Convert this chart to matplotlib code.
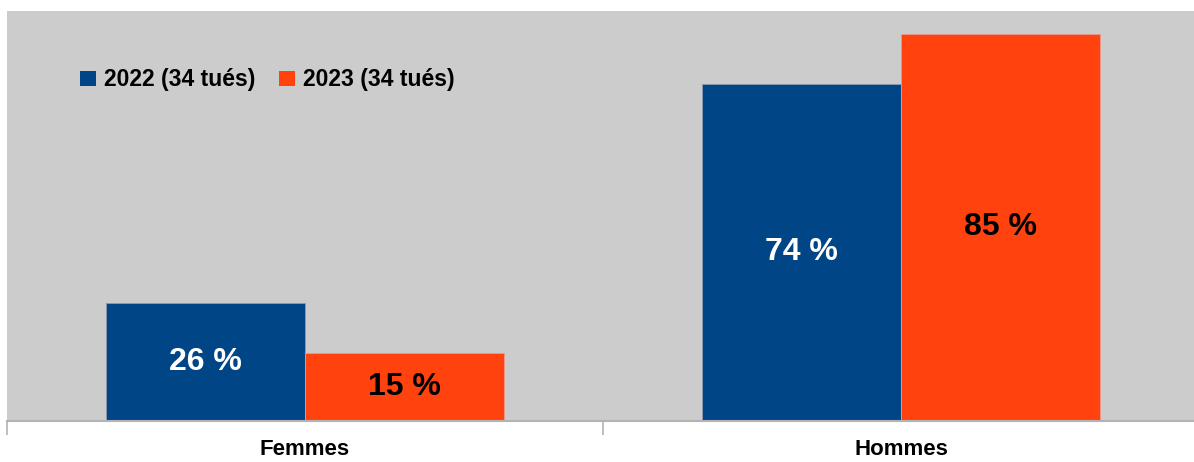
import matplotlib
matplotlib.use("Agg")
import matplotlib.pyplot as plt
from matplotlib.patches import Patch
import numpy as np

categories = ["Femmes", "Hommes"]
series_names = ["2022 (34 tués)", "2023 (34 tués)"]
values_2022 = [26, 74]
values_2023 = [15, 85]
labels_2022 = ["26 %", "74 %"]
labels_2023 = ["15 %", "85 %"]

plt.rcParams['font.family'] = ['Liberation Sans', 'DejaVu Sans']

blue = "#004586"
orange = "#FF420E"

fig = plt.figure(figsize=(11.94, 4.62), dpi=100)
ax = fig.add_axes([7/1194, (462-421)/462, 1192/1194, (421-11)/462])
ax.set_facecolor("#CCCCCC")

x = np.arange(len(categories))
w = 0.334
ax.bar(x - w/2, values_2022, w, color=blue, edgecolor="#8a9bb0", linewidth=0.6, zorder=2)
ax.bar(x + w/2, values_2023, w, color=orange, edgecolor="#e89a88", linewidth=0.6, zorder=2)

for xi, v, lab in zip(x - w/2, values_2022, labels_2022):
    ax.text(xi, v/2, lab, ha="center", va="center", color="white", fontsize=23, fontweight="bold", zorder=3)
for xi, v, lab in zip(x + w/2, values_2023, labels_2023):
    ax.text(xi, v/2, lab, ha="center", va="center", color="black", fontsize=23, fontweight="bold", zorder=3)

ax.set_xlim(-0.5, 1.5)
ax.set_ylim(0, 90)
ax.set_yticks([])
ax.set_xticks([-0.5, 0.5, 1.5])
ax.set_xticklabels([])
ax.set_xticks(x, minor=True)
ax.set_xticklabels(categories, minor=True, fontsize=16, fontweight="bold")
ax.tick_params(axis="x", which="major", length=10, color="#B3B3B3", width=1.2)
ax.tick_params(axis="x", which="minor", length=0, pad=13)
for s in ["top", "right", "left"]:
    ax.spines[s].set_visible(False)
ax.spines["bottom"].set_color("#B3B3B3")
ax.spines["bottom"].set_linewidth(1.5)

handles = [Patch(facecolor=blue), Patch(facecolor=orange)]
ax.legend(handles, series_names, loc="center left", bbox_to_anchor=(73/1192, (421-80)/410),
          ncol=2, frameon=False, prop={"weight": "bold", "size": 16.5},
          handlelength=0.68, handleheight=0.68, handletextpad=0.35, columnspacing=1.05,
          borderaxespad=0, borderpad=0)

fig.savefig("out.png", dpi=100, facecolor="white")
